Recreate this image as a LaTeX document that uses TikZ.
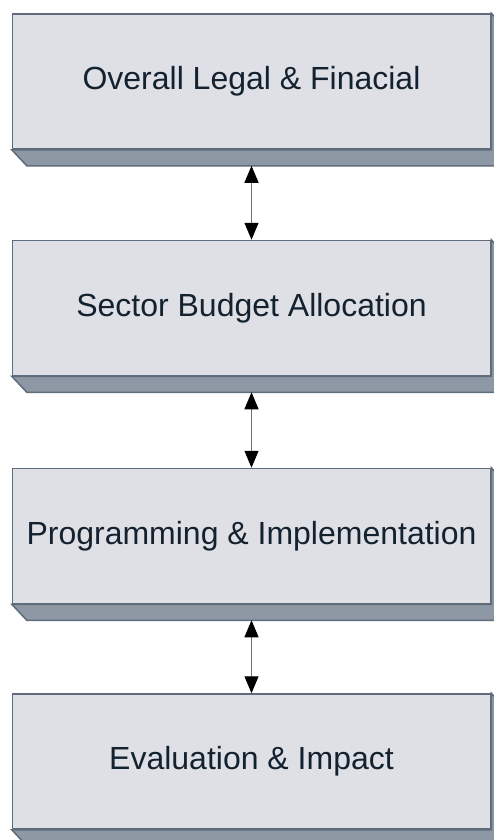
\documentclass[tikz,border=0pt]{standalone}
\usepackage{fontspec}
\setmainfont{Liberation Sans}
\usetikzlibrary{arrows.meta}
\usepackage{xcolor}
\definecolor{StageFace}{HTML}{DFE0E6}
\definecolor{StageEdge}{HTML}{5E6C7B}
\definecolor{StageSide}{HTML}{8D98A4}
\definecolor{StageText}{HTML}{14222F}
\definecolor{LinkGray}{HTML}{6B7480}
\tikzset{
    % Box styles - flat face with a bevelled ledge
    stage/.style={
        rectangle,
        draw=StageEdge,
        fill=StageFace,
        line width=1.5pt,
        minimum width=478pt,
        minimum height=135pt,
        align=center,
        text=StageText,
        font=\fontsize{32}{38}\selectfont
    },
    ledge/.style={
        draw=StageEdge,
        fill=StageSide,
        line width=1.5pt,
        line join=miter
    },
    % Arrow style - two-way link
    link/.style={
        {Triangle[length=17pt,width=14pt,color=black]}-{Triangle[length=17pt,width=14pt,color=black]},
        line width=1.2pt,
        draw=LinkGray
    }
}

\begin{document}
\begin{tikzpicture}[x=1pt, y=-1pt]
    \path[use as bounding box, clip] (0,0) rectangle (494,840);

    \node[stage] (legal) at (251.5,81.5) {Overall Legal \& Finacial};
    \node[stage] (budget) at (251.5,308) {Sector Budget Allocation};
    \node[stage] (program) at (251.5,536) {Programming \& Implementation};
    \node[stage] (impact) at (251.5,761.5) {Evaluation \& Impact};

    % ledges under and right of each box
    \foreach \b in {legal, budget, program, impact}
        \draw[ledge] (\b.south west) -- ([shift={(15,16)}]\b.south west)
            -- ([shift={(15,16)}]\b.south east) -- ([shift={(15,16)}]\b.north east)
            -- (\b.north east) -- (\b.south east) -- cycle;

    \draw[link] ([yshift=-16pt]legal.south) -- (budget.north);
    \draw[link] ([yshift=-16pt]budget.south) -- (program.north);
    \draw[link] ([yshift=-16pt]program.south) -- (impact.north);
\end{tikzpicture}
\end{document}
